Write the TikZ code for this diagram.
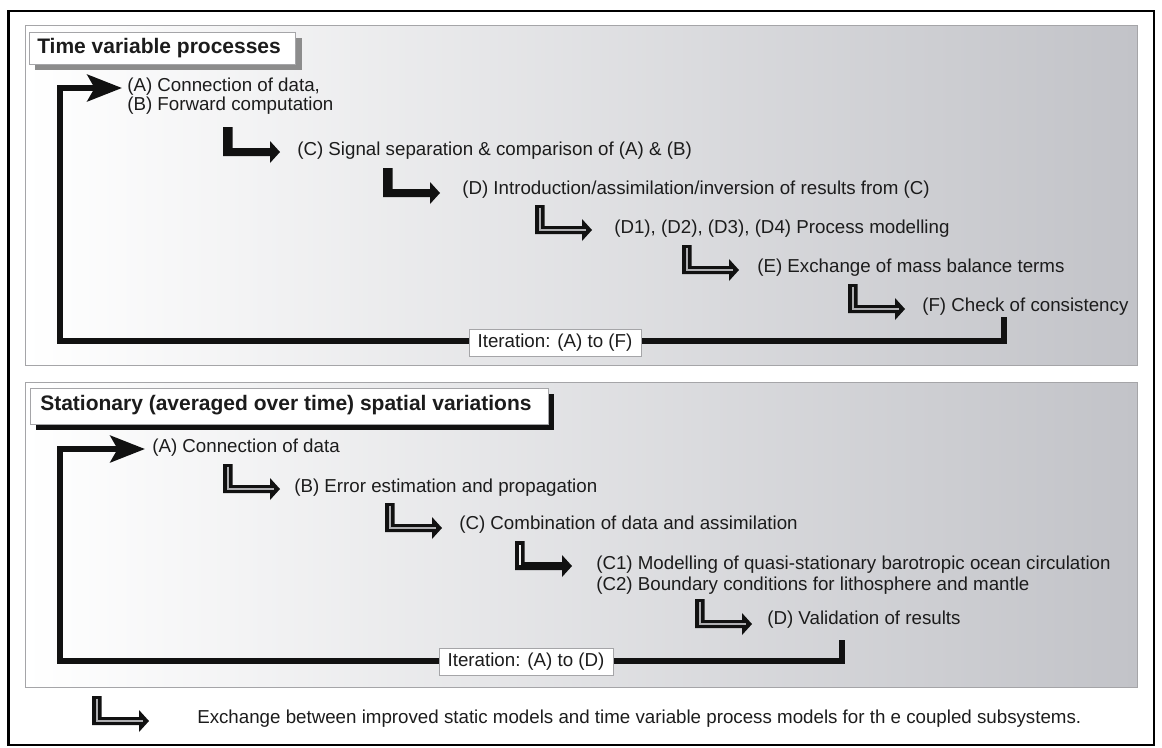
\documentclass[tikz,border=0pt]{standalone}
\usepackage{fontspec}
\setmainfont{Liberation Sans}
\usetikzlibrary{arrows.meta}
\definecolor{txt}{HTML}{1C1C1C}
\definecolor{panelR}{RGB}{194,195,200}
\definecolor{panelline}{RGB}{165,165,168}
\definecolor{hatch}{RGB}{140,140,140}
\definecolor{arrowblack}{HTML}{111111}
\definecolor{innerline}{RGB}{175,175,178}
\begin{document}
\begin{tikzpicture}[x=0.75pt,y=-0.75pt,
  lbl/.style={inner sep=0pt, anchor=west, text=txt, font=\fontsize{14.05}{14}\selectfont, align=left},
  ttl/.style={inner sep=0pt, anchor=west, text=txt, font=\bfseries\fontsize{15.75}{18}\selectfont},
  panel/.style={left color=white, right color=panelR, draw=panelline, line width=0.75pt},
  iterbox/.style={draw=panelline, fill=white, line width=0.6pt, text=txt,
    font=\fontsize{14.05}{15}\selectfont, inner xsep=6.5pt, inner ysep=0pt, minimum height=20.5pt},
  loopline/.style={draw=arrowblack, line width=4.5pt, line join=miter,
    -{Stealth[length=26pt,width=20pt,inset=5.5pt]}},
  bentbody/.style={fill=arrowblack},
  bentinner/.style={draw=innerline, line width=1.5pt},
  bentsolid/.pic={\fill[bentbody] (0,0) -- (9.5,0) -- (9.5,21) -- (47,21) -- (47,14) -- (57,25) -- (47,36) -- (47,29) -- (0,29) -- cycle;},
  bentdouble/.pic={\fill[bentbody] (0,0) -- (9.5,0) -- (9.5,21) -- (47,21) -- (47,14) -- (57,25) -- (47,36) -- (47,29) -- (0,29) -- cycle;
    \draw[bentinner] (4.75,2.6) -- (4.75,25) -- (51,25);},
  bentpartial/.pic={\fill[bentbody] (0,0) -- (9.5,0) -- (9.5,21) -- (47,21) -- (47,14) -- (57,25) -- (47,36) -- (47,29) -- (0,29) -- cycle;
    \draw[draw=white!90!gray, line width=1.3pt] (4.75,4) -- (4.75,24);}
]
\useasboundingbox (0,0) rectangle (1162,747);
\fill[white] (0,0) rectangle (1162,747);
% outer frame
\draw[black, line width=2pt] (8.5,11) rectangle (1154,745);

% ---------------- Panel 1 ----------------
\shade[panel] (25,25) rectangle (1137,365);
\fill[hatch] (35,38) rectangle (302,70);
\draw[fill=white, draw=panelline, line width=0.6pt] (29,32) rectangle (295,64);
\node[ttl] (t1) at (37,48) {Time variable processes};

\coordinate (L1s) at (1004,317);
\coordinate (L1b) at (60,341);
\coordinate (L1t) at (122,88);
\draw[loopline] (L1s) |- (L1b) |- (L1t);
\node[iterbox] (it1) at (555,343) {Iteration: (A) to (F)};

\node[lbl, font=\fontsize{14.05}{13.6}\selectfont] (p1A) at (127,96) {(A) Connection of data,\\[0.9pt](B) Forward computation};
\pic (a1C) at (223,127) {bentsolid};
\node[lbl] (p1C) at (297,151) {(C) Signal separation \& comparison of (A) \& (B)};
\pic (a1D) at (383,168) {bentsolid};
\node[lbl] (p1D) at (462,190) {(D) Introduction/assimilation/inversion of results from (C)};
\pic (a1D1) at (535,205) {bentdouble};
\node[lbl] (p1D1) at (614,229) {(D1), (D2), (D3), (D4) Process modelling};
\pic (a1E) at (682,245) {bentdouble};
\node[lbl] (p1E) at (757,268) {(E) Exchange of mass balance terms};
\pic (a1F) at (848,284) {bentdouble};
\node[lbl] (p1F) at (922,307) {(F) Check of consistency};

% ---------------- Panel 2 ----------------
\shade[panel] (25,382) rectangle (1137,687);
\fill[arrowblack] (36,394) rectangle (554,430);
\draw[fill=white, draw=panelline, line width=0.6pt] (30,388) rectangle (548,424);
\node[ttl] (t2) at (40,405) {Stationary (averaged over time) spatial variations};

\coordinate (L2s) at (842,640);
\coordinate (L2b) at (60,661);
\coordinate (L2t) at (145,449);
\draw[loopline] (L2s) |- (L2b) |- (L2t);
\node[iterbox] (it2) at (526,662) {Iteration: (A) to (D)};

\node[lbl] (p2A) at (152,448) {(A) Connection of data};
\pic (a2B) at (223,464) {bentdouble};
\node[lbl] (p2B) at (294,488) {(B) Error estimation and propagation};
\pic (a2C) at (385,503) {bentdouble};
\node[lbl] (p2C) at (459,525) {(C) Combination of data and assimilation};
\pic (a2C1) at (515,541) {bentpartial};
\node[lbl, font=\fontsize{14.05}{15.75}\selectfont] (p2C1) at (596,575.5) {(C1) Modelling of quasi-stationary barotropic ocean circulation\\(C2) Boundary conditions for lithosphere and mantle};
\pic (a2D) at (695,599) {bentdouble};
\node[lbl] (p2D) at (767,620) {(D) Validation of results};

% ---------------- Legend ----------------
\pic (aLeg) at (92,696) {bentdouble};
\node[lbl] (leg) at (197,719) {Exchange between improved static models and time variable process models for th e coupled subsystems.};
\end{tikzpicture}
\end{document}
